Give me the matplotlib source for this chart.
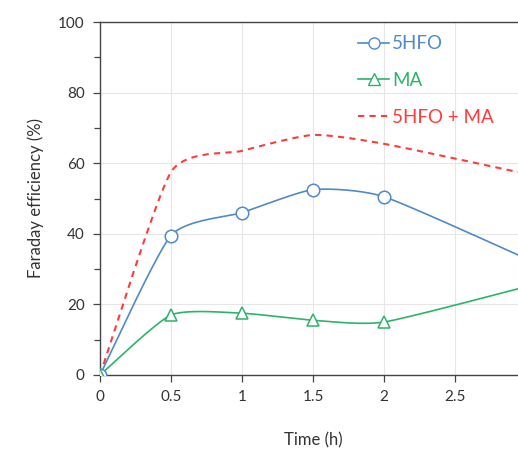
import numpy as np
import matplotlib
matplotlib.use("Agg")
import matplotlib.pyplot as plt
from matplotlib.ticker import MultipleLocator

plt.rcParams['font.family'] = ['Lato', 'DejaVu Sans']

time_h = [0, 0.5, 1, 1.5, 2, 3]
fe_5hfo = [0, 39.5, 46, 52.5, 50.5, 33]
fe_ma = [0, 17, 17.5, 15.5, 15, 25]
fe_sum = [0, 57.5, 63.5, 68, 65.5, 57]

def smooth(x, y, n=40, t=0.3):
    x = np.asarray(x, float); y = np.asarray(y, float)
    P = np.column_stack([x, y])
    P = np.vstack([P[0], P, P[-1]])
    out = []
    for i in range(1, len(P) - 2):
        p0, p1, p2, p3 = P[i-1], P[i], P[i+1], P[i+2]
        c1 = p1 + (p2 - p0) * t / 3
        c2 = p2 - (p3 - p1) * t / 3
        s = np.linspace(0, 1, n)[:, None]
        seg = (1-s)**3*p1 + 3*(1-s)**2*s*c1 + 3*(1-s)*s**2*c2 + s**3*p2
        out.append(seg if i == 1 else seg[1:])
    out = np.vstack(out)
    return out[:, 0], out[:, 1]

fig = plt.figure(figsize=(5.18, 4.51), dpi=100)
ax = fig.add_axes([100/518, 76/451, 426/518, 353/451])

c_blue = '#4f8ac9'
c_green = '#2eb36b'
c_red = '#ff3b3b'

xs, ys = smooth(time_h, fe_sum)
ax.plot(xs, ys, color=c_red, lw=1.5, ls=(0, (3, 2.5)), zorder=3)
xs, ys = smooth(time_h, fe_5hfo)
ax.plot(xs, ys, color=c_blue, lw=1.2, zorder=4)
xs, ys = smooth(time_h, fe_ma)
ax.plot(xs, ys, color=c_green, lw=1.2, zorder=4)
ax.plot(time_h, fe_5hfo, ls='none', marker='o', ms=9, mfc='white', mec=c_blue, mew=1.1, zorder=5)
ax.plot(time_h, fe_ma, ls='none', marker='^', ms=9, mfc='white', mec=c_green, mew=1.1, zorder=5)

h1, = ax.plot([], [], color=c_blue, lw=1.2, marker='o', ms=8, mfc='white', mec=c_blue)
h2, = ax.plot([], [], color=c_green, lw=1.2, marker='^', ms=8, mfc='white', mec=c_green)
h3, = ax.plot([], [], color=c_red, lw=1.5, ls=(0, (3, 2.5)))
leg = ax.legend([h1, h2, h3], ['5HFO', 'MA', '5HFO + MA'], loc='upper left',
                bbox_to_anchor=(0.565, 1.01), frameon=False, handlelength=1.7,
                handletextpad=0.15, labelspacing=1.05, fontsize=13.5)
for txt, c in zip(leg.get_texts(), [c_blue, c_green, c_red]):
    txt.set_color(c)

ax.set_xlim(0, 3)
ax.set_ylim(0, 100)
ax.yaxis.set_major_locator(MultipleLocator(20))
ax.yaxis.set_minor_locator(MultipleLocator(10))
ax.set_xticks([0, 0.5, 1, 1.5, 2, 2.5, 3])
ax.set_xticklabels(['0', '0.5', '1', '1.5', '2', '2.5', '3'])
ax.grid(True, which='major', color='#e6e6e6', lw=0.8, zorder=0)
ax.set_axisbelow(True)
for s in ['left', 'bottom', 'top']:
    ax.spines[s].set_color('#444444')
    ax.spines[s].set_linewidth(1.0)
ax.spines['right'].set_visible(False)
ax.tick_params(axis='both', which='major', direction='out', length=5, width=0.9,
               color='#444444', labelsize=11, labelcolor='#333333', pad=6)
ax.tick_params(axis='y', which='minor', direction='out', length=4, width=0.9, color='#444444')
ax.set_xlabel('Time (h)', fontsize=12, color='#333333', labelpad=20)
ax.set_ylabel('Faraday efficiency (%)', fontsize=12, color='#333333', labelpad=10)

fig.savefig('out.png', dpi=100)
